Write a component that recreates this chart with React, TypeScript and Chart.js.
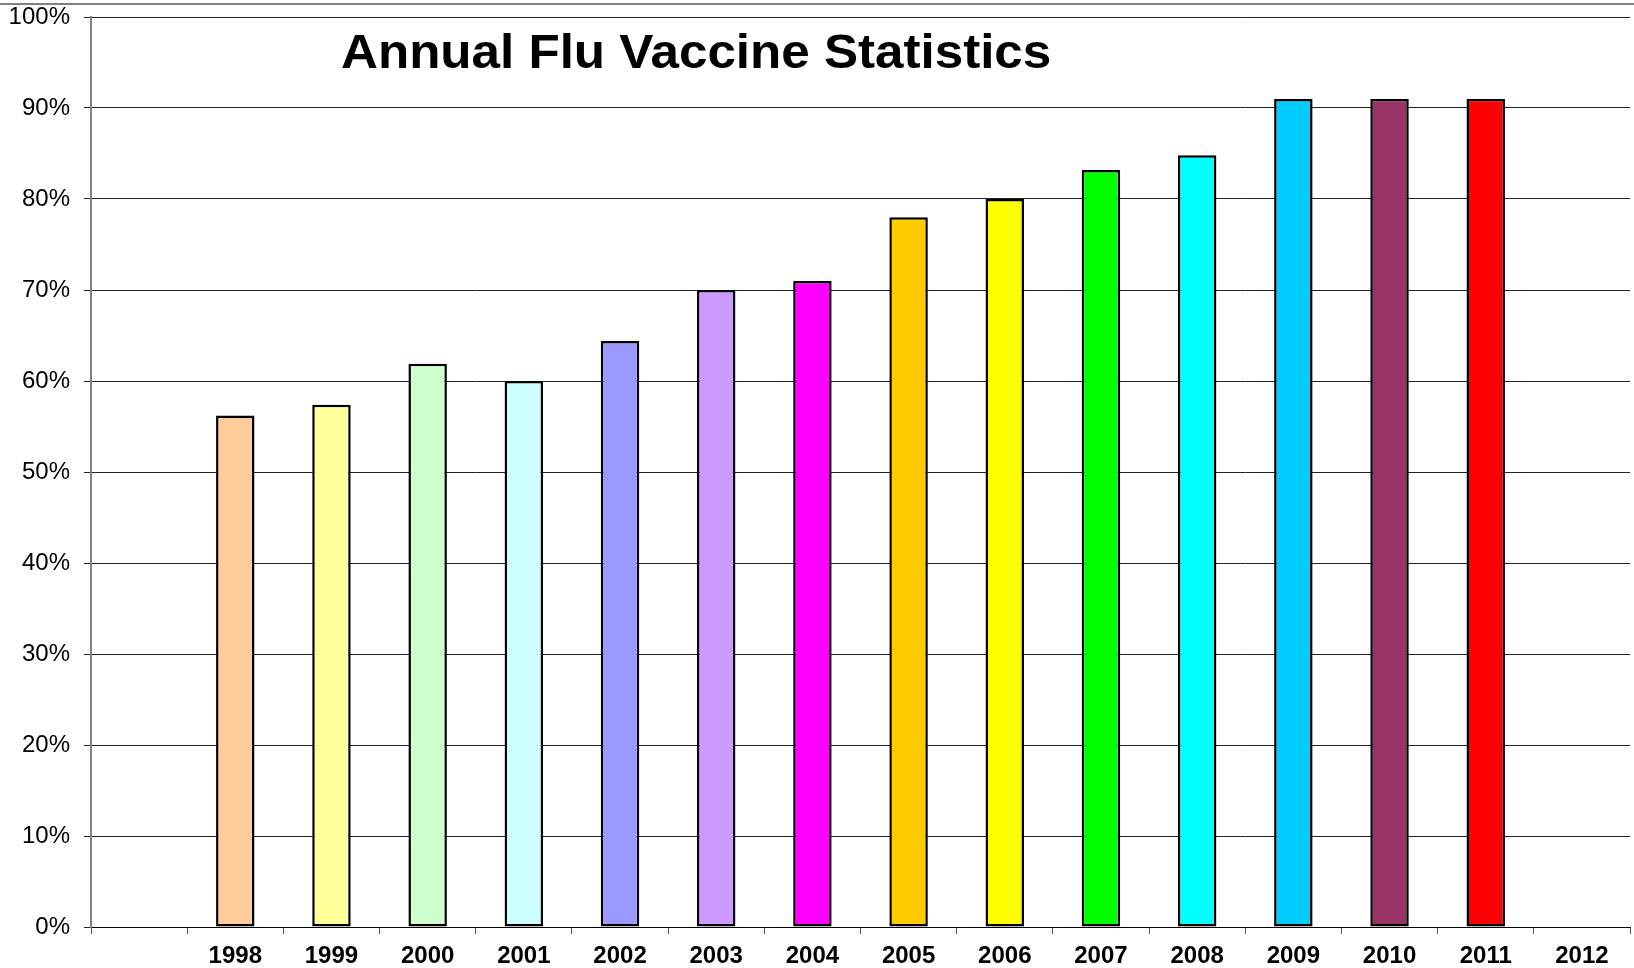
import React, { useEffect, useRef } from "react";
import { Chart, registerables } from "chart.js";

Chart.register(...registerables);

// Survey years (the first slot is an empty lead-in category)
const years: string[] = [
  "", "1998", "1999", "2000", "2001", "2002", "2003", "2004",
  "2005", "2006", "2007", "2008", "2009", "2010", "2011", "2012",
];

// Vaccination rate per year, in percent
const rates: (number | null)[] = [
  null, 56.2, 57.4, 61.9, 60.0, 64.4, 70.0, 71.0,
  78.0, 80.0, 83.2, 84.8, 91.0, 91.0, 91.0, null,
];

// One fill colour per year
const barColors: string[] = [
  "#ffffff", "#FFCC99", "#FFFF99", "#CCFFCC", "#CCFFFF", "#9999FF", "#CC99FF", "#FF00FF",
  "#FFCC00", "#FFFF00", "#00FF00", "#00FFFF", "#00CCFF", "#993366", "#FF0000", "#ffffff",
];

const yTicks: number[] = [0, 10, 20, 30, 40, 50, 60, 70, 80, 90, 100];

const chartTitle = "Annual Flu Vaccine Statistics";

const FONT = "'Liberation Sans', Arial, Helvetica, sans-serif";

// Draws the frame rule at the top and the heading text
const headingPlugin = {
  id: "heading",
  afterDraw(chart: Chart) {
    const { ctx, width } = chart;
    ctx.save();
    ctx.strokeStyle = "#808080";
    ctx.lineWidth = 2;
    ctx.beginPath();
    ctx.moveTo(0, 4);
    ctx.lineTo(width, 4);
    ctx.stroke();

    ctx.fillStyle = "#000";
    ctx.font = `bold 48px ${FONT}`;
    ctx.textAlign = "left";
    ctx.textBaseline = "alphabetic";
    ctx.translate(341, 68);
    ctx.scale(1.065, 1);
    ctx.fillText(chartTitle, 0, 0);
    ctx.restore();
  },
};

export default function App() {
  const canvasRef = useRef<HTMLCanvasElement | null>(null);

  useEffect(() => {
    document.body.style.margin = "0";
    const canvas = canvasRef.current;
    if (!canvas) return;
    Chart.defaults.font.family = FONT;

    const chart = new Chart(canvas, {
      type: "bar",
      data: {
        labels: years,
        datasets: [
          {
            data: rates,
            backgroundColor: barColors,
            borderColor: "#000",
            borderWidth: 2.5,
            borderSkipped: false,
            barPercentage: 0.4,
            categoryPercentage: 1,
          },
        ],
      },
      options: {
        animation: false,
        responsive: true,
        maintainAspectRatio: false,
        layout: { padding: { top: 17, right: 4, left: 0, bottom: 0 } },
        plugins: {
          legend: { display: false },
          title: { display: false },
          tooltip: { enabled: false },
        },
        scales: {
          x: {
            offset: true,
            grid: {
              offset: true,
              drawOnChartArea: false,
              drawTicks: true,
              tickLength: 7,
              color: "#555",
              lineWidth: 1,
            },
            border: { display: true, color: "#000", width: 1 },
            ticks: {
              color: "#000",
              font: { size: 24, weight: "bold", family: FONT },
              padding: 8,
              maxRotation: 0,
              autoSkip: false,
            },
            afterFit(scale: any) {
              scale.height = 41;
              scale.paddingLeft = 0;
              scale.paddingRight = 0;
            },
          },
          y: {
            min: 0,
            max: 100,
            afterBuildTicks(scale: any) {
              scale.ticks = yTicks.map((v) => ({ value: v }));
            },
            ticks: {
              color: "#000",
              font: { size: 24, family: FONT },
              padding: 14,
              callback: (v: any) => `${v}%`,
            },
            grid: {
              color: "#222",
              lineWidth: 1,
              drawTicks: true,
              tickLength: 7,
            },
            border: { display: true, color: "#808080", width: 2 },
            afterFit(scale: any) {
              scale.width = 91;
              scale.paddingTop = 0;
              scale.paddingBottom = 0;
            },
          },
        },
      },
      plugins: [headingPlugin],
    });

    return () => chart.destroy();
  }, []);

  return (
    <div style={{ position: "relative", width: "1634px", height: "968px", background: "#fff" }}>
      <canvas ref={canvasRef} />
    </div>
  );
}
